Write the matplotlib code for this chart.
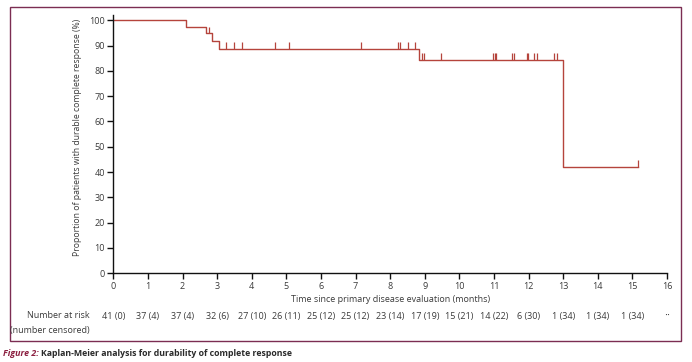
import matplotlib.pyplot as plt
from matplotlib.patches import Rectangle

plt.rcParams['font.family'] = ['Open Sans', 'DejaVu Sans']

# данi кривої Каплана-Мейєра
event_times = [0, 2.11, 2.67, 2.86, 3.06, 8.84, 13.0, 15.16]
survival = [100, 97.5, 94.8, 91.8, 88.6, 84.2, 42.0, 42.0]

# цензуровані спостереження (час, рівень)
censor_times = [2.77, 3.25, 3.48, 3.71, 4.66, 5.07, 7.15, 8.22, 8.29, 8.51, 8.71,
                8.91, 8.99, 9.46, 10.97, 11.04, 11.07, 11.51, 11.58, 11.95, 11.98,
                12.17, 12.23, 12.73, 12.82, 15.16]
censor_levels = [94.8] + [88.6] * 10 + [84.2] * 14 + [42.0]

months = list(range(0, 17))
at_risk = ["41 (0)", "37 (4)", "37 (4)", "32 (6)", "27 (10)", "26 (11)", "25 (12)",
           "25 (12)", "23 (14)", "17 (19)", "15 (21)", "14 (22)", "6 (30)", "1 (34)",
           "1 (34)", "1 (34)", "··"]

W, H = 692, 362
fig = plt.figure(figsize=(W / 100, H / 100), dpi=100)

# осі в пікселях
x0, x1 = 113.3, 667.0
y0, ytop = 273.3, 15.2
ax = fig.add_axes([x0 / W, 1 - y0 / H, (x1 - x0) / W, (y0 - ytop) / H])

line_col = '#b5443c'
text_col = '#3a3a3a'

ax.step(event_times, survival, where='post', color=line_col, lw=1.0)
ax.vlines(censor_times, censor_levels, [c + 2.7 for c in censor_levels], color=line_col, lw=0.9)

ax.set_xlim(0, 16)
ax.set_ylim(0, 102)
ax.set_xticks(months)
ax.set_yticks(range(0, 101, 10))
for s in ['top', 'right']:
    ax.spines[s].set_visible(False)
for s in ['left', 'bottom']:
    ax.spines[s].set_linewidth(1.0)
    ax.spines[s].set_color('#111111')
ax.tick_params(length=4, width=1.0, labelsize=6.5, labelcolor=text_col, pad=2, color='#111111')
ax.set_ylabel("Proportion of patients with durable complete response (%)", fontsize=6.2,
              color=text_col, labelpad=3)
ax.yaxis.set_label_coords(-(x0 - 82) / (x1 - x0), (y0 - 137) / (y0 - ytop))

fig.text((x0 + x1) / 2 / W, 1 - 299 / H, "Time since primary disease evaluation (months)",
         ha='center', va='center', fontsize=6.5, color=text_col)

# число пацієнтів під ризиком
for m, r in zip(months, at_risk):
    xp = x0 + (x1 - x0) * m / 16
    fs = 6.5 if r != "··" else 8
    fig.text(xp / W, 1 - 316 / H, r, ha='center', va='center', fontsize=fs, color=text_col)
fig.text(90 / W, 1 - 316 / H, "Number at risk", ha='right', va='center', fontsize=6.5, color=text_col)
fig.text(90 / W, 1 - 330 / H, "(number censored)", ha='right', va='center', fontsize=6.5, color=text_col)

# рамка
fig.patches.append(Rectangle((10 / W, 1 - 341 / H), 671 / W, 334 / H, transform=fig.transFigure,
                             fill=False, edgecolor='#7b2d52', lw=1.0))

# підпис
fig.text(3 / W, 1 - 353 / H, "Figure 2:", ha='left', va='center', fontsize=6.4,
         style='italic', color='#8b1e3f', fontweight='bold')
fig.text(41 / W, 1 - 353 / H, "Kaplan-Meier analysis for durability of complete response",
         ha='left', va='center', fontsize=6.3, color='#2a2a2a', fontweight='bold')

fig.savefig("out.png", dpi=100)
